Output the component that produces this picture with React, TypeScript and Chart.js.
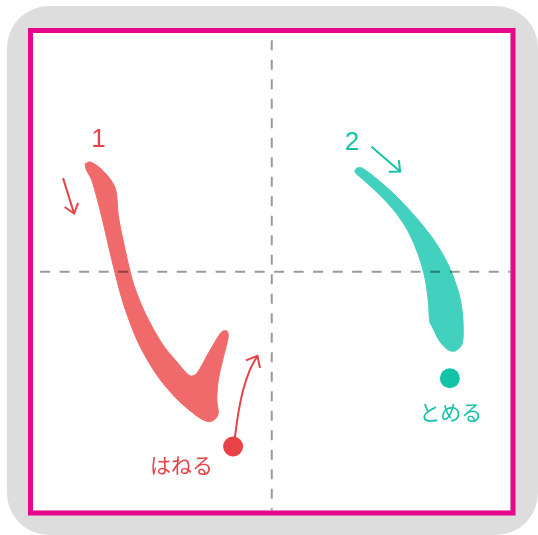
import { useEffect, useRef } from "react";
import { Chart, registerables } from "chart.js";

Chart.register(...registerables);

// Coordinate system: the writing square runs 0..100 on both axes (y downward).
const AXIS_MIN = 0;
const AXIS_MAX = 100;

// Guide cross (dashed centre lines)
const crossVX = [50, 50];
const crossVY = [1.5, 100];
const crossHX = [1.5, 100];
const crossHY = [50, 50];

// Stroke 1 outline (left stroke with hane)
const stroke1X = [10.9, 11.9, 13.7, 15.8, 17.3, 17.9, 19.3, 21.0, 23.5, 27.0, 30.4, 32.9, 34.3, 36.7, 39.5, 40.6, 40.9, 39.9, 38.8, 38.5, 38.8, 38.1, 36.7, 34.6, 30.4, 26.2, 22.1, 18.9, 16.5, 14.4, 12.3, 11.2, 10.9];
const stroke1Y = [27.4, 27.0, 28.0, 30.1, 32.7, 38.5, 45.4, 52.4, 58.7, 65.0, 69.2, 71.8, 71.3, 67.1, 62.6, 62.4, 63.6, 67.8, 72.7, 76.9, 79.6, 80.9, 81.4, 80.4, 76.9, 72.0, 65.0, 56.6, 47.5, 38.5, 30.8, 28.7, 27.4];

// Stroke 2 outline (right stroke with tome)
const stroke2X = [67.8, 68.8, 72.3, 76.5, 80.7, 84.2, 87.0, 89.1, 89.9, 90.1, 89.8, 88.4, 87.0, 85.2, 83.6, 83.1, 82.8, 82.1, 80.7, 78.6, 75.8, 72.3, 68.8, 67.8, 67.4, 67.8];
const stroke2Y = [28.3, 28.2, 30.8, 34.6, 39.2, 43.7, 48.6, 54.2, 58.4, 62.6, 65.3, 66.6, 66.4, 64.6, 61.5, 60.5, 56.3, 51.4, 46.5, 41.6, 37.4, 33.6, 30.4, 29.6, 28.9, 28.3];

// Direction arrows
const arrow1X = [6.3, 8.6];
const arrow1Y = [30.4, 37.8];
const arrow2X = [70.9, 76.9];
const arrow2Y = [23.8, 29.0];
const haneArrowX = [41.9, 42.3, 43.0, 44.0, 45.4, 47.0];
const haneArrowY = [86.6, 84.5, 79.6, 74.8, 70.6, 67.6];

// Marker dots
const haneDotX = [41.9];
const haneDotY = [86.6];
const tomeDotX = [87.3];
const tomeDotY = [72.3];

// Text labels
const labelTexts = ["1", "2", "はねる", "とめる"];
const labelX = [13.7, 66.8, 31.1, 87.5];
const labelY = [22.3, 23.0, 90.5, 79.3];

const RED_STROKE = "#F06A6B";
const RED = "#E84246";
const TEAL_STROKE = "#41D1BE";
const TEAL = "#14C2A8";
const PINK = "#E6078B";
const GRAY = "#DDDDDD";

const labelColors = [RED, TEAL, RED, TEAL];
const labelFonts = [
  '26px "Liberation Sans", Arial, sans-serif',
  '26px "Liberation Sans", Arial, sans-serif',
  '21px "Noto Sans CJK JP", sans-serif',
  '21px "Noto Sans CJK JP", sans-serif',
];

const zip = (xs: number[], ys: number[]) => xs.map((x, i) => ({ x, y: ys[i] }));

function arrowHead(xs: number[], ys: number[], len: number, angleDeg: number) {
  const n = xs.length;
  const tx = xs[n - 1];
  const ty = ys[n - 1];
  const dx = xs[n - 2] - tx;
  const dy = ys[n - 2] - ty;
  const d = Math.hypot(dx, dy);
  const bx = dx / d;
  const by = dy / d;
  const a = (angleDeg * Math.PI) / 180;
  const rot = (s: number) => ({
    x: tx + len * (bx * Math.cos(s * a) - by * Math.sin(s * a)),
    y: ty + len * (bx * Math.sin(s * a) + by * Math.cos(s * a)),
  });
  return [rot(1), { x: tx, y: ty }, rot(-1)];
}

export default function App() {
  const ref = useRef<HTMLCanvasElement | null>(null);

  useEffect(() => {
    if (!ref.current) return;

    const bgPlugin = {
      id: "bgPlugin",
      beforeDraw(chart: any) {
        const { ctx, chartArea } = chart;
        ctx.save();
        ctx.fillStyle = "#FFFFFF";
        ctx.fillRect(0, 0, chart.width, chart.height);
        ctx.beginPath();
        (ctx as any).roundRect(7, 6, 531, 529, 42);
        ctx.fillStyle = GRAY;
        ctx.fill();
        ctx.fillStyle = "#FFFFFF";
        ctx.fillRect(chartArea.left, chartArea.top, chartArea.right - chartArea.left, chartArea.bottom - chartArea.top);
        ctx.strokeStyle = PINK;
        ctx.lineWidth = 5;
        ctx.strokeRect(
          chartArea.left - 2.5,
          chartArea.top - 2.5,
          chartArea.right - chartArea.left + 5,
          chartArea.bottom - chartArea.top + 5
        );
        ctx.restore();
      },
    };

    const labelPlugin = {
      id: "labelPlugin",
      afterDatasetsDraw(chart: any) {
        const { ctx, scales } = chart;
        ctx.save();
        ctx.textAlign = "center";
        ctx.textBaseline = "middle";
        labelTexts.forEach((t, i) => {
          ctx.font = labelFonts[i];
          ctx.fillStyle = labelColors[i];
          ctx.fillText(t, scales.x.getPixelForValue(labelX[i]), scales.y.getPixelForValue(labelY[i]));
        });
        ctx.restore();
      },
    };

    const lineDs = (data: any[], color: string, width: number, order: number, extra: any = {}) => ({
      data,
      showLine: true,
      borderColor: color,
      borderWidth: width,
      pointRadius: 0,
      pointHoverRadius: 0,
      fill: false,
      order,
      ...extra,
    });

    const chart = new Chart(ref.current, {
      type: "scatter",
      data: {
        datasets: [
          lineDs(zip(crossVX, crossVY), "rgba(0,0,0,0.4)", 2, 0, { borderDash: [10, 9.5] }),
          lineDs(zip(crossHX, crossHY), "rgba(0,0,0,0.4)", 2, 0, { borderDash: [10, 9.5] }),
          {
            data: zip(haneDotX, haneDotY),
            pointRadius: 10,
            pointBackgroundColor: RED,
            pointBorderWidth: 0,
            showLine: false,
            order: 1,
          },
          {
            data: zip(tomeDotX, tomeDotY),
            pointRadius: 10,
            pointBackgroundColor: TEAL,
            pointBorderWidth: 0,
            showLine: false,
            order: 1,
          },
          lineDs(zip(arrow1X, arrow1Y), RED, 2, 2),
          lineDs(arrowHead(arrow1X, arrow1Y, 2.4, 38), RED, 2, 2, { borderJoinStyle: "miter" }),
          lineDs(zip(arrow2X, arrow2Y), TEAL, 2, 2),
          lineDs(arrowHead(arrow2X, arrow2Y, 2.4, 42), TEAL, 2, 2, { borderJoinStyle: "miter" }),
          lineDs(zip(haneArrowX, haneArrowY), RED, 2, 2, { tension: 0.4 }),
          lineDs(arrowHead(haneArrowX, haneArrowY, 2.6, 40), RED, 2, 2, { borderJoinStyle: "miter" }),
          lineDs(zip(stroke1X, stroke1Y), RED_STROKE, 1, 5, {
            fill: "shape",
            backgroundColor: RED_STROKE,
            tension: 0.3,
          }),
          lineDs(zip(stroke2X, stroke2Y), TEAL_STROKE, 1, 5, {
            fill: "shape",
            backgroundColor: TEAL_STROKE,
            tension: 0.3,
          }),
        ],
      },
      options: {
        animation: false,
        responsive: false,
        events: [],
        layout: { padding: { left: 33, top: 33, right: 27.5, bottom: 24.5 } },
        plugins: { legend: { display: false }, tooltip: { enabled: false } },
        scales: {
          x: { type: "linear", min: AXIS_MIN, max: AXIS_MAX, display: false },
          y: { type: "linear", min: AXIS_MIN, max: AXIS_MAX, reverse: true, display: false },
        },
      },
      plugins: [bgPlugin, labelPlugin],
    } as any);

    return () => chart.destroy();
  }, []);

  return (
    <div style={{ position: "absolute", left: 0, top: 0, width: 538, height: 535 }}>
      <canvas ref={ref} width={538} height={535} style={{ width: 538, height: 535, display: "block" }} />
    </div>
  );
}
